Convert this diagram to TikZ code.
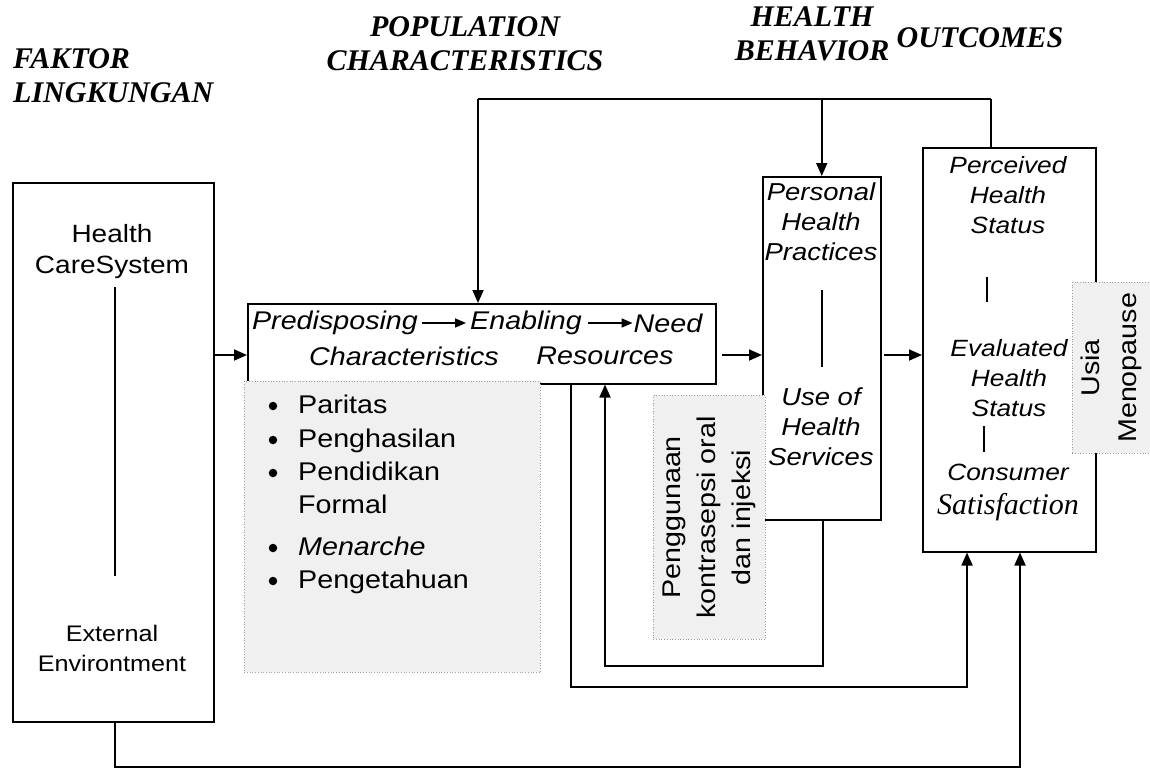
\documentclass[tikz,border=0pt]{standalone}
\usepackage{fontspec}
\setmainfont{Liberation Sans}[FakeStretch=1.12]
\newfontfamily\hdrfont{Liberation Serif}
\newfontfamily\tmsfont{Liberation Serif}
\usetikzlibrary{arrows.meta}
\begin{document}
\begin{tikzpicture}[x=1pt,y=-1pt,
  box/.style={draw, line width=1.5pt, inner sep=0pt, anchor=north west, fill=white},
  graybox/.style={draw=gray!75, dotted, line width=0.7pt, fill=gray!12, inner sep=0pt, anchor=north west},
  arr/.style={line width=1.8pt, -{Triangle[length=13pt,width=11pt]}},
  conn/.style={line width=1.8pt},
  thinline/.style={line width=1.1pt},
  iarr/.style={line width=1.6pt, -{Triangle[length=11pt,width=9pt]}},
  txt/.style={inner sep=0pt, font=\fontsize{25.6}{33}\selectfont},
  dot/.style={circle, fill, inner sep=0pt, minimum size=8.5pt},
  itxt/.style={inner sep=0pt, align=center, font=\fontsize{25.6}{33}\selectfont\itshape},
  otxt/.style={inner sep=0pt, align=center, font=\fontsize{23.5}{30}\selectfont\itshape},
  hdr/.style={inner sep=0pt, font=\fontsize{30}{34}\hdrfont\bfseries\itshape}
]
\useasboundingbox (0,0) rectangle (1150,769);

% headers
\node[hdr, align=left, anchor=west] (h1) at (13,76) {FAKTOR\\LINGKUNGAN};
\node[hdr, align=center] (h2) at (465,44) {POPULATION\\CHARACTERISTICS};
\node[hdr, align=center] (h3) at (812,34) {HEALTH\\BEHAVIOR};
\node[hdr] (h4) at (980,38) {OUTCOMES};

% main boxes
\node[box, minimum width=201pt, minimum height=539pt] (env) at (12,182) {};
\node[box, minimum width=468pt, minimum height=80pt] (pop) at (247,303) {};
\node[box, minimum width=118pt, minimum height=343pt] (hb) at (762,176) {};
\node[box, minimum width=173pt, minimum height=404pt] (out) at (922,147) {};

% gray boxes
\node[graybox, minimum width=296pt, minimum height=291pt] (lst) at (244,381) {};
\node[graybox, minimum width=112pt, minimum height=244pt] (kb) at (653,395) {};
\node[graybox, minimum width=78pt, minimum height=171pt] (usia) at (1072,282) {};

% left box text
\node[inner sep=0pt, align=center, font=\fontsize{25}{31}\selectfont] (hcs) at (112,252) {Health\\CareSystem};
\node[inner sep=0pt, align=center, font=\fontsize{22.5}{30}\selectfont] (ext) at (112,648) {External\\Environtment};
\draw[thinline] (115,287) -- (115,576);

% population box text
\node[itxt] (pre) at (335,323) {Predisposing};
\node[itxt] (ena) at (526,323) {Enabling};
\node[itxt] (need) at (668,323) {Need};
\node[itxt] (cha) at (404,356) {Characteristics};
\node[itxt] (res) at (605,356) {Resources};
\draw[iarr] ([xshift=4pt]pre.east) -- ([xshift=-4pt]ena.west);
\draw[iarr] ([xshift=6pt]ena.east) -- ([xshift=-1pt]need.west);

% bullet list
\foreach \y/\t/\n in {413/Paritas/1, 447/Penghasilan/2, 480/Pendidikan/3, 555/\textit{Menarche}/5, 588/Pengetahuan/6}{
  \node[dot] (b\n) at (273,\y-7) {};
  \node[txt, anchor=base west] (t\n) at (298,\y) {\t};
}
\node[txt, anchor=base west] (t4) at (298,513) {Formal};

% health behavior text
\node[otxt, font=\fontsize{24.5}{30}\selectfont\itshape] (php) at (821,222) {Personal\\Health\\Practices};
\node[otxt, font=\fontsize{24.5}{30}\selectfont\itshape] (uhs) at (821,427) {Use of\\Health\\Services};
\draw[thinline] (822,290) -- (822,367);

% outcome text
\node[otxt] (phs) at (1008,195) {Perceived\\Health\\Status};
\node[otxt] (ehs) at (1009,378) {Evaluated\\Health\\Status};
\node[otxt] (con) at (1008,472) {Consumer};
\node[inner sep=0pt, font=\fontsize{30}{32}\tmsfont\itshape] (sat) at (1008,507) {Satisfaction};
\draw[thinline] (987,277) -- (987,302);
\draw[thinline] (984,426) -- (984,452);

% rotated gray box text
\node[inner sep=0pt, align=center, rotate=90, font=\fontsize{25.6}{35}\selectfont] (kbt) at (kb.center) {Penggunaan\\kontrasepsi oral\\dan injeksi};
\node[inner sep=0pt, align=center, rotate=90, font=\fontsize{25.6}{37}\selectfont] (ust) at (usia.center) {Usia\\Menopause};

% connectors
\coordinate (ymid) at (0,355);
\coordinate (tl) at (478,99);
\coordinate (tr) at (991,99);
\draw[conn] (tl) -- (tr);
\draw[thinline] (tr) -- (tr |- out.north);
\draw[arr] (tl) -- (tl |- pop.north);
\draw[arr] (hb.north |- tl) -- (hb.north);

\draw[arr] (env.east |- ymid) -- (pop.west |- ymid);
\draw[arr] ([xshift=5pt]pop.east |- ymid) -- (hb.west |- ymid);
\draw[arr] ([xshift=2pt]hb.east |- ymid) -- (out.west |- ymid);

\coordinate (l1a) at (823,666);
\coordinate (l1b) at (605,666);
\draw[arr] (hb.south -| l1a) -- (l1a) -- (l1b) -- (l1b |- pop.south);

\coordinate (l2a) at (571,687);
\coordinate (l2b) at (967,687);
\draw[arr] (pop.south -| l2a) -- (l2a) -- (l2b) -- (l2b |- out.south);

\coordinate (l3a) at (115,767);
\coordinate (l3b) at (1020,767);
\draw[arr] (env.south -| l3a) -- (l3a) -- (l3b) -- (l3b |- out.south);
\end{tikzpicture}
\end{document}
